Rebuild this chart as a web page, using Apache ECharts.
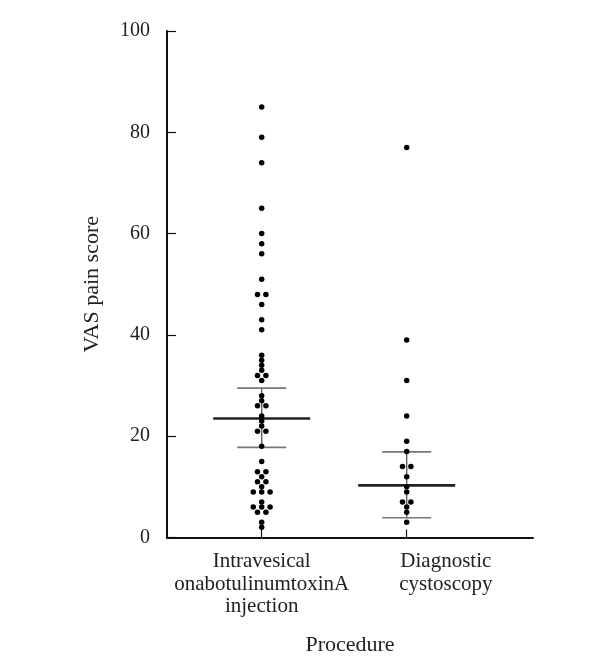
<!DOCTYPE html>
<html>
<head>
<meta charset="utf-8">
<script src="https://cdn.jsdelivr.net/npm/echarts@6/dist/echarts.min.js"></script>
<style>html,body{margin:0;padding:0;background:#fff}#c{width:612px;height:669px}</style>
</head>
<body>
<div id="c"></div>
<script>
var categories = ['Intravesical\nonabotulinumtoxinA\ninjection', 'Diagnostic\ncystoscopy'];
var groupPositions = [1, 2];
var injectionScores = [85,79,74,65,60,58,56,51,48,48,46,43,41,36,35,34,33,32,32,31,28,27,26,26,24,23,22,21,21,18,15,13,13,12,11,11,10,9,9,9,7,6,6,6,5,5,3,2];
var cystoscopyScores = [77,39,31,24,19,17,14,14,12,10,9,7,7,6,5,3];
// summary lines: [lower, centre, upper]
var injectionSummary = [17.8, 23.5, 29.5];
var cystoscopySummary = [3.9, 10.3, 16.9];
var yTicks = [0, 20, 40, 60, 80, 100];

var FONT = '"Liberation Serif", "DejaVu Serif", serif';
var STEP = 0.058; // horizontal spread for tied values (x units)

function swarm(values, x) {
  var counts = {}, seen = {}, out = [];
  values.forEach(function (v) { counts[v] = (counts[v] || 0) + 1; });
  values.forEach(function (v) {
    var n = counts[v], i = seen[v] || 0; seen[v] = i + 1;
    out.push([x + (i - (n - 1) / 2) * STEP, v]);
  });
  return out;
}

var chart = echarts.init(document.getElementById('c'), null, {renderer: 'canvas'});
chart.setOption({
  animation: false,
  grid: {left: 167, right: 79, top: 31, bottom: 131.5, containLabel: false},
  xAxis: {
    type: 'value', min: 0.347, max: 2.871,
    splitLine: {show: false},
    axisLine: {lineStyle: {color: '#111', width: 2}},
    axisTick: {show: true, inside: true, length: 8, customValues: groupPositions, lineStyle: {color: '#111', width: 1.2}},
    axisLabel: {
      customValues: [1, 2.27],
      formatter: function (v) { return v < 1.5 ? categories[0] : categories[1]; },
      fontFamily: FONT, fontSize: 21, color: '#222', lineHeight: 22.5, margin: 13, align: 'center'
    },
    name: 'Procedure', nameLocation: 'middle', nameGap: 97,
    nameTextStyle: {fontFamily: FONT, fontSize: 22, color: '#222'}
  },
  yAxis: {
    type: 'value', min: 0, max: 100, interval: 20,
    splitLine: {show: false},
    axisLine: {show: true, lineStyle: {color: '#111', width: 2}},
    axisTick: {show: true, inside: true, length: 9, lineStyle: {color: '#111', width: 1.2}},
    axisLabel: {fontFamily: FONT, fontSize: 20, color: '#222', margin: 17},
    name: 'VAS pain score', nameLocation: 'middle', nameGap: 64,
    nameTextStyle: {fontFamily: FONT, fontSize: 22, color: '#222'}
  },
  series: [
    {
      type: 'custom',
      z: 1,
      data: [[groupPositions[0]].concat(injectionSummary), [groupPositions[1]].concat(cystoscopySummary)],
      renderItem: function (params, api) {
        var x = api.value(0);
        var lo = api.coord([x, api.value(1)]);
        var ce = api.coord([x, api.value(2)]);
        var hi = api.coord([x, api.value(3)]);
        return {
          type: 'group',
          children: [
            {type: 'line', shape: {x1: lo[0], y1: lo[1], x2: hi[0], y2: hi[1]}, style: {stroke: '#555', lineWidth: 1.3}},
            {type: 'line', shape: {x1: lo[0] - 24.5, y1: lo[1], x2: lo[0] + 24.5, y2: lo[1]}, style: {stroke: '#777', lineWidth: 1.6}},
            {type: 'line', shape: {x1: hi[0] - 24.5, y1: hi[1], x2: hi[0] + 24.5, y2: hi[1]}, style: {stroke: '#777', lineWidth: 1.6}},
            {type: 'line', shape: {x1: ce[0] - 48.5, y1: ce[1], x2: ce[0] + 48.5, y2: ce[1]}, style: {stroke: '#222', lineWidth: 2.6}}
          ]
        };
      }
    },
    {
      type: 'scatter', z: 3, symbolSize: 5.5,
      itemStyle: {color: '#000', opacity: 1},
      data: swarm(injectionScores, groupPositions[0])
    },
    {
      type: 'scatter', z: 3, symbolSize: 5.5,
      itemStyle: {color: '#000', opacity: 1},
      data: swarm(cystoscopyScores, groupPositions[1])
    }
  ]
});
</script>
</body>
</html>
